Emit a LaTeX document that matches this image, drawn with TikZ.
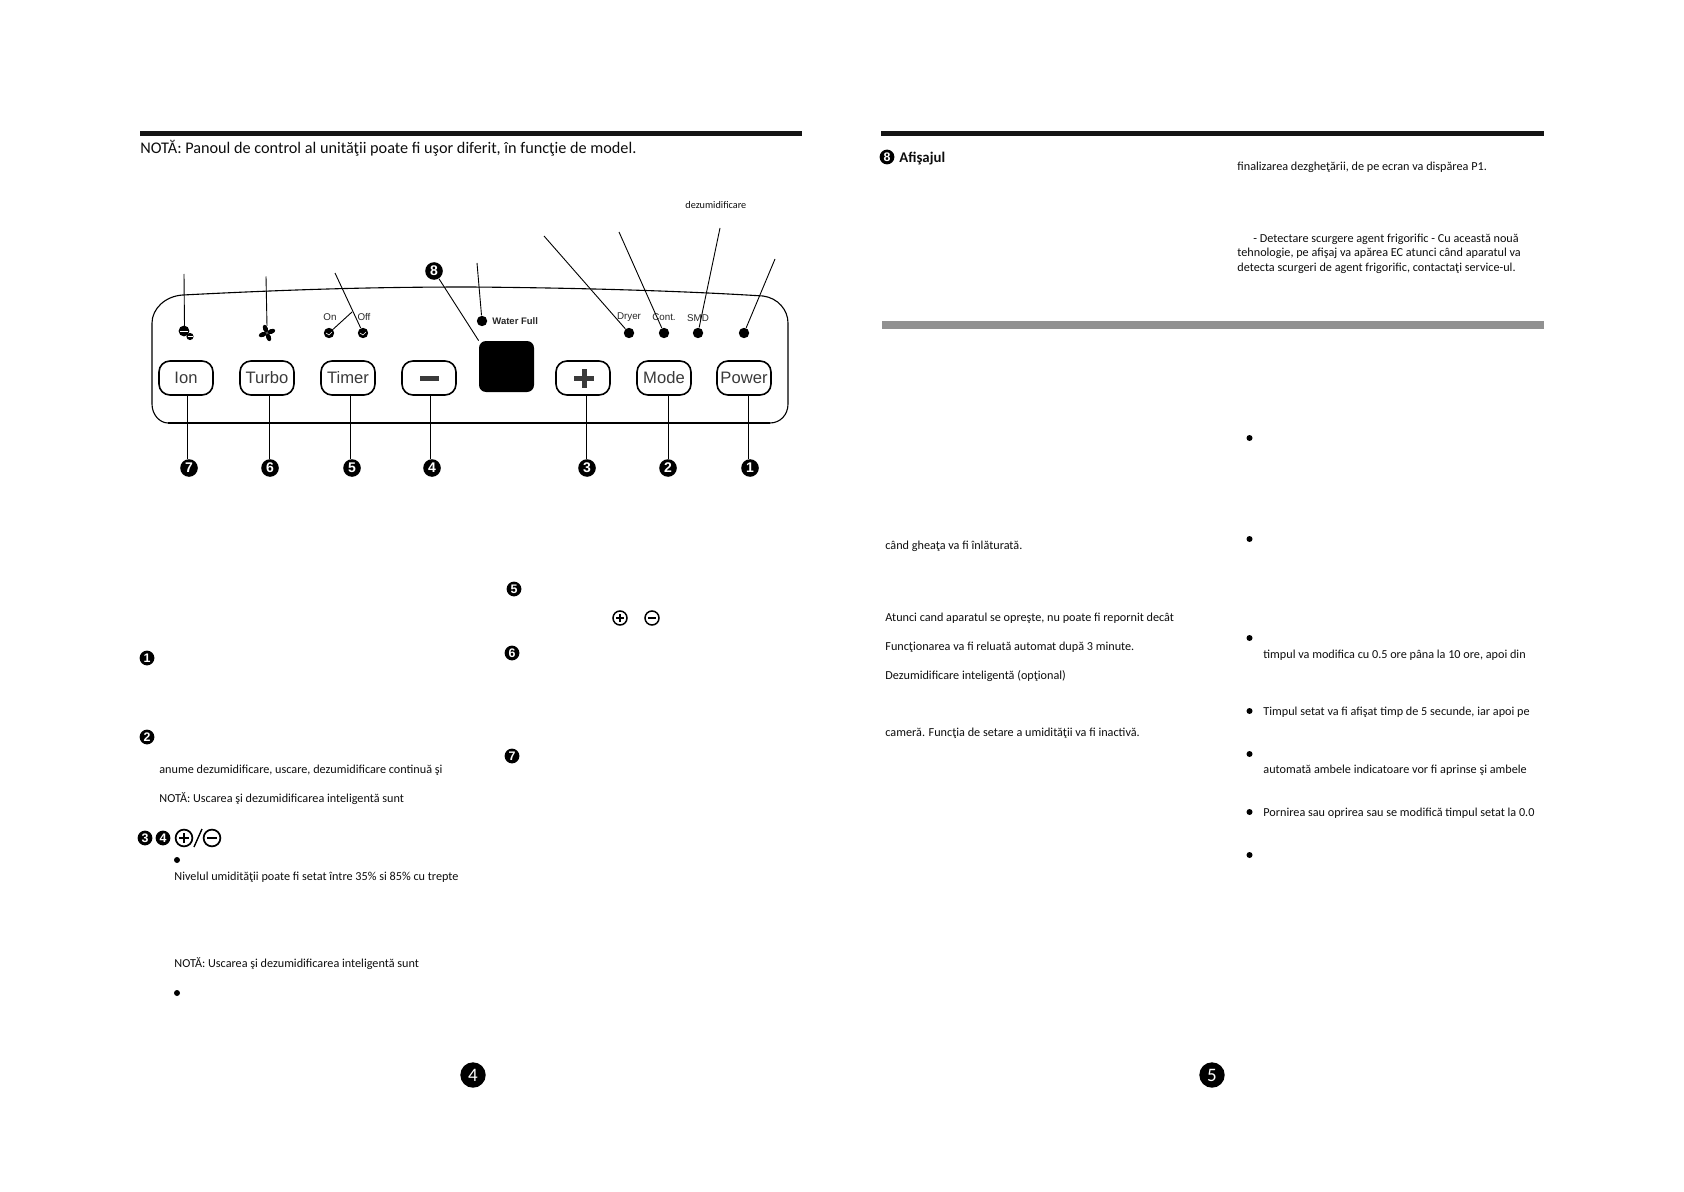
\documentclass[tikz,border=0pt]{standalone}
\usepackage{fontspec}
\setmainfont{Carlito}
\newfontfamily\panelfont{Liberation Sans}
\usetikzlibrary{positioning}
\definecolor{inkgray}{HTML}{3A3A3A}
\tikzset{
  body/.style    = {anchor=base west, inner sep=0pt, text=black!95,
                    font=\fontsize{6.1}{7}\selectfont},
  note/.style    = {body, font=\fontsize{8.12}{10}\selectfont},
  head/.style    = {body, font=\fontsize{7.4}{9}\selectfont\bfseries},
  num/.style     = {circle, fill=black, text=white, inner sep=0pt, minimum size=8.8pt,
                    font=\fontsize{7}{7}\selectfont\panelfont\bfseries},
  smallnum/.style= {num, minimum size=7.4pt, font=\fontsize{6.2}{6}\selectfont\panelfont\bfseries},
  pagenum/.style = {num, minimum size=12.7pt, text=white!70,
                    font=\fontsize{9.5}{9}\selectfont},
  btn/.style     = {rectangle, rounded corners=5.5pt, draw=black, line width=.8pt,
                    minimum width=27pt, minimum height=17pt, inner sep=0pt, text=inkgray,
                    font=\fontsize{8.3}{9}\selectfont\panelfont},
  led/.style     = {circle, fill=black, inner sep=0pt, minimum size=5.2pt},
  tag/.style     = {inner sep=0pt, text=black!85, font=\fontsize{4.9}{5}\selectfont\panelfont},
  dotb/.style    = {circle, fill=black, inner sep=0pt, minimum size=3pt},
  sign/.style    = {circle, draw=black, line width=.75pt, inner sep=0pt, minimum size=7pt},
  bigsign/.style = {sign, line width=.85pt, minimum size=8.4pt},
  ld/.style      = {line width=.45pt, black}
}
\begin{document}
\begin{tikzpicture}[x=.5pt,y=-.5pt]
  \useasboundingbox (0,0) rectangle (1684,1192);

  % ---- Page rules ----
  \fill[black!92] (140,131) rectangle (802,136);
  \fill[black!92] (881,131) rectangle (1544,136);
  \fill[black!43] (882,321) rectangle (1544,329);

  % ---- Panel outline ----
  \draw[line width=.55pt] (183,295) .. controls (300,289) and (380,287) .. (470,287)
    .. controls (600,288) and (700,292) .. (763,296)
    .. controls (778,298) and (788,310) .. (788,323) -- (788,404)
    .. controls (788,415) and (780,423) .. (770,423);
  \draw[line width=.55pt] (183,295) .. controls (165,296) and (152,309) .. (152,323) -- (152,404)
    .. controls (152,415) and (160,423) .. (168,423);
  \draw[line width=.9pt] (168,423) -- (770,423);

  % ---- Buttons ----
  \node[btn] (bIon)   at (186,378) {Ion};
  \node[btn] (bTurbo) at (267,378) {Turbo};
  \node[btn] (bTimer) at (348,378) {Timer};
  \node[btn] (bMinus) at (429,378) {};
  \node[btn] (bPlus)  at (583,378) {};
  \node[btn] (bMode)  at (664,378) {Mode};
  \node[btn] (bPower) at (744,378) {Power};
  \fill[inkgray] (419.5,376) rectangle (438.5,381);
  \fill[inkgray] (574,375.5) rectangle (594,380.5);
  \fill[inkgray] (581.5,368.5) rectangle (586.5,387.5);

  % ---- Display ----
  \node[rectangle, fill=black, rounded corners=3.5pt, inner sep=0pt,
        minimum width=27.5pt, minimum height=25.5pt] (disp) at (506.5,366.5) {};

  % ---- Indicators ----
  \node[led] (lOn)    at (329,333) {};
  \node[led] (lOff)   at (363,333) {};
  \node[led] (lWater) at (482,321) {};
  \node[led] (lDryer) at (629,333) {};
  \node[led] (lCont)  at (664,333) {};
  \node[led] (lSmd)   at (698,333) {};
  \node[led] (lPower) at (744,333) {};
  \draw[white, line width=.3pt] (326,333) -- (329,335) -- (332,332);
  \draw[white, line width=.3pt] (360,333) -- (363,335) -- (366,332);

  \node[tag] (tOn)    at (330,317) {On};
  \node[tag] (tOff)   at (364,317) {Off};
  \node[tag, anchor=west, font=\fontsize{4.75}{5}\selectfont\panelfont\bfseries]
        (tWater) at (492,321) {Water Full};
  \node[tag] (tDryer) at (629,317) {Dryer};
  \node[tag] (tCont)  at (664,317) {Cont.};
  \node[tag] (tSmd)   at (698,318) {SMD};

  % ---- Ion and fan icons ----
  \fill (184,331) circle (5.4);
  \fill (190,336.5) circle (3.6);
  \draw[white, line width=.35pt] (180,331.5) -- (188,331.5);
  \draw[white, line width=.3pt] (187.5,336.5) -- (192.5,336.5);
  \foreach \ang in {20,110,200,290}
    \fill[rotate around={\ang:(267,333)}] (267,328.5) ellipse (2.4 and 4.2);

  % ---- Numbered markers ----
  \node[num] (n7) at (189,468) {7};
  \node[num] (n6) at (270,468) {6};
  \node[num] (n5) at (352,468) {5};
  \node[num] (n4) at (432,468) {4};
  \node[num] (n3) at (587,468) {3};
  \node[num] (n2) at (668,468) {2};
  \node[num] (n1) at (750,468) {1};
  \node[num] (n8) at (434,271) {8};

  % ---- Leaders ----
  \coordinate (eIon)   at (184,274);
  \coordinate (eFan)   at (266,276.5);
  \coordinate (eTimer) at (335,273);
  \coordinate (eOn)    at (352,312);
  \coordinate (eWater) at (477,263);
  \coordinate (eDryer) at (544,236);
  \coordinate (eCont)  at (619,232);
  \coordinate (eSmd)   at (720,228);
  \coordinate (ePower) at (775,259);
  \coordinate (iIon)   at (184.5,326);
  \coordinate (iFan)   at (267,326);
  \draw[ld] (eIon) -- (iIon);
  \draw[ld] (eFan) -- (iFan);
  \draw[ld] (eTimer) -- (lOff);
  \draw[ld] (eOn) -- (lOn);
  \draw[ld] (eWater) -- (lWater);
  \draw[ld] (eDryer) -- (lDryer);
  \draw[ld] (eCont) -- (lCont);
  \draw[ld] (eSmd) -- (lSmd);
  \draw[ld] (ePower) -- (lPower);
  \draw[ld] (n8) -- (disp.north west);
  \draw[ld] ([xshift=.5pt]bIon.south) -- ([xshift=-1pt]n7.north);
  \draw[ld] ([xshift=1pt]bTurbo.south) -- ([xshift=-.5pt]n6.north);
  \draw[ld] ([xshift=1pt]bTimer.south) -- ([xshift=-1pt]n5.north);
  \draw[ld] ([xshift=.5pt]bMinus.south) -- ([xshift=-1pt]n4.north);
  \draw[ld] ([xshift=1.5pt]bPlus.south) -- ([xshift=-.5pt]n3.north);
  \draw[ld] ([xshift=2pt]bMode.south) -- (n2.north);
  \draw[ld] ([xshift=2pt]bPower.south) -- ([xshift=-1pt]n1.north);

  % ---- Left page text ----
  \node[note] (tNote) at (140,154) {NOTĂ: Panoul de control al unităţii poate fi uşor diferit, în funcţie de model.};
  \node[body, font=\fontsize{5.1}{6}\selectfont] (tDez) at (685,208.5) {dezumidificare};

  \node[smallnum] (m1) at (147,658) {1};
  \node[smallnum] (m2) at (147,737) {2};
  \node[smallnum] (m3) at (145,838) {3};
  \node[smallnum] (m4) at (163,838) {4};
  \node[smallnum] (m5) at (514,589) {5};
  \node[smallnum] (m6) at (512,653) {6};
  \node[smallnum] (m7) at (512,756) {7};

  \node[body] (t2a) at (159,773) {anume dezumidificare, uscare, dezumidificare continuă şi};
  \node[body] (t2b) at (159,802) {NOTĂ: Uscarea şi dezumidificarea inteligentă sunt};

  % ---- Plus and minus signs ----
  \node[bigsign] (sPlus)  at (184,838) {};
  \node[bigsign] (sMinus) at (212,838) {};
  \draw[line width=.85pt] ([xshift=-2.5pt]sPlus.center) -- ([xshift=2.5pt]sPlus.center);
  \draw[line width=.85pt] ([yshift=-2.5pt]sPlus.center) -- ([yshift=2.5pt]sPlus.center);
  \draw[line width=.85pt] ([xshift=-2.5pt]sMinus.center) -- ([xshift=2.5pt]sMinus.center);
  \coordinate (sA) at (194,847);
  \coordinate (sB) at (202,829);
  \draw[line width=.7pt] (sA) -- (sB);
  \node[sign] (sPlusb)  at (620,618) {};
  \node[sign] (sMinusb) at (652,618) {};
  \draw[line width=.8pt] ([xshift=-2pt]sPlusb.center) -- ([xshift=2pt]sPlusb.center);
  \draw[line width=.8pt] ([yshift=-2pt]sPlusb.center) -- ([yshift=2pt]sPlusb.center);
  \draw[line width=.8pt] ([xshift=-2pt]sMinusb.center) -- ([xshift=2pt]sMinusb.center);

  \node[dotb] (d1) at (177,860) {};
  \node[dotb] (d2) at (177,993) {};
  \node[body] (t3a) at (174,880) {Nivelul umidităţii poate fi setat între 35\% si 85\% cu trepte};
  \node[body] (t3b) at (174,967) {NOTĂ: Uscarea şi dezumidificarea inteligentă sunt};

  \node[pagenum] (p4) at (473,1075) {4};
  \node[pagenum] (p5) at (1212,1075) {5};

  % ---- Right page text ----
  \node[smallnum] (m8) at (887,157) {8};
  \node[head] (tAfis) at (899,163) {Afişajul};
  \node[body] (r1) at (1237,171) {finalizarea dezgheţării, de pe ecran va dispărea P1.};
  \node[body] (r2) at (1253,243) {- Detectare scurgere agent frigorific - Cu această nouă};
  \node[body] (r3) at (1237,257) {tehnologie, pe afişaj va apărea EC atunci când aparatul va};
  \node[body] (r4) at (1237,272) {detecta scurgeri de agent frigorific, contactaţi service-ul.};

  \node[body] (r5) at (885,549) {când gheaţa va fi înlăturată.};
  \node[body] (r6) at (885,621) {Atunci cand aparatul se opreşte, nu poate fi repornit decât};
  \node[body] (r7) at (885,650) {Funcţionarea va fi reluată automat după 3 minute.};
  \node[body] (r8) at (885,679) {Dezumidificare inteligentă (opţional)};
  \node[body] (r9) at (885,736) {cameră. Funcţia de setare a umidităţii va fi inactivă.};

  \node[dotb] (b1) at (1249.5,438) {};
  \node[dotb] (b2) at (1249.5,539) {};
  \node[dotb] (b3) at (1249.5,638) {};
  \node[dotb] (b4) at (1249.5,711) {};
  \node[dotb] (b5) at (1249.5,754) {};
  \node[dotb] (b6) at (1249.5,812) {};
  \node[dotb] (b7) at (1249.5,855) {};
  \node[body] (r10) at (1263,658) {timpul va modifica cu 0.5 ore pâna la 10 ore, apoi din};
  \node[body] (r11) at (1263,715) {Timpul setat va fi afişat timp de 5 secunde, iar apoi pe};
  \node[body] (r12) at (1263,773) {automată ambele indicatoare vor fi aprinse şi ambele};
  \node[body] (r13) at (1263,816) {Pornirea sau oprirea sau se modifică timpul setat la 0.0};
\end{tikzpicture}
\end{document}
